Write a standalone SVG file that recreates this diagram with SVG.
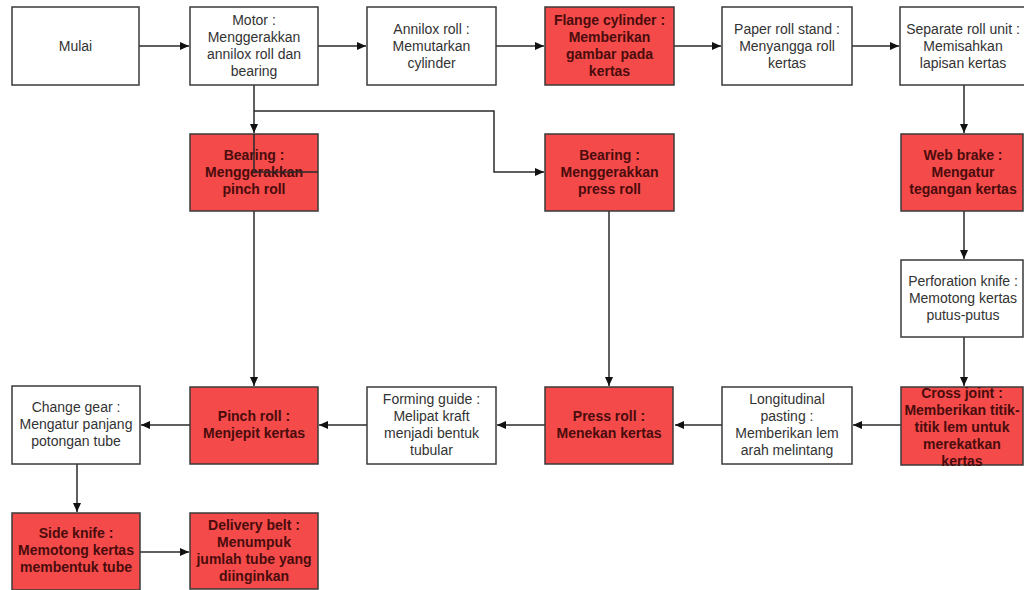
<svg xmlns="http://www.w3.org/2000/svg" width="1024" height="590" viewBox="0 0 1024 590">
<style>
.w{fill:#ffffff;stroke:#3a3a3a;stroke-width:1.5}
.r{fill:#f44a4a;stroke:#3a3a3a;stroke-width:1.5}
.tw{font-family:"Liberation Sans",Arial,sans-serif;font-size:14px;fill:#333333;text-anchor:middle}
.tr{font-family:"Liberation Sans",Arial,sans-serif;font-size:14px;font-weight:bold;fill:#4a0c0c;text-anchor:middle}
.c{fill:none;stroke:#2a2a2a;stroke-width:1.5}
</style>
<defs>
<marker id="a" markerWidth="10" markerHeight="10" refX="9" refY="5" orient="auto" markerUnits="userSpaceOnUse">
<path d="M0,1 L9,5 L0,9 Z" fill="#111"/>
</marker>
</defs>
<rect width="1024" height="590" fill="#ffffff"/>
<g id="connectors">
<line class="c" x1="139" y1="46" x2="189" y2="46" marker-end="url(#a)"/>
<line class="c" x1="318" y1="46" x2="366" y2="46" marker-end="url(#a)"/>
<line class="c" x1="496" y1="46" x2="544" y2="46" marker-end="url(#a)"/>
<line class="c" x1="674" y1="46" x2="721" y2="46" marker-end="url(#a)"/>
<line class="c" x1="852" y1="46" x2="899" y2="46" marker-end="url(#a)"/>
<line class="c" x1="254" y1="85" x2="254" y2="133" marker-end="url(#a)"/>
<polyline class="c" points="254,111 494,111 494,172 544,172" marker-end="url(#a)"/>
<line class="c" x1="964" y1="85" x2="964" y2="133" marker-end="url(#a)"/>
<line class="c" x1="964" y1="211" x2="964" y2="259" marker-end="url(#a)"/>
<line class="c" x1="964" y1="337" x2="964" y2="386" marker-end="url(#a)"/>
<line class="c" x1="254" y1="211" x2="254" y2="386" marker-end="url(#a)"/>
<line class="c" x1="609" y1="211" x2="609" y2="386" marker-end="url(#a)"/>
<line class="c" x1="901" y1="425" x2="853" y2="425" marker-end="url(#a)"/>
<line class="c" x1="722" y1="425" x2="675" y2="425" marker-end="url(#a)"/>
<line class="c" x1="545" y1="425" x2="497" y2="425" marker-end="url(#a)"/>
<line class="c" x1="367" y1="425" x2="319" y2="425" marker-end="url(#a)"/>
<line class="c" x1="190" y1="425" x2="141" y2="425" marker-end="url(#a)"/>
<line class="c" x1="77" y1="464" x2="77" y2="512" marker-end="url(#a)"/>
<line class="c" x1="140" y1="552" x2="189" y2="552" marker-end="url(#a)"/>
</g>
<g id="mulai"><rect class="w" x="12" y="7" width="127" height="78"/><text class="tw" x="75.5" y="51">Mulai</text></g>
<g id="motor"><rect class="w" x="190" y="7" width="128" height="78"/><text class="tw" x="254"><tspan x="254" y="25">Motor :</tspan><tspan x="254" y="42">Menggerakkan</tspan><tspan x="254" y="59">annilox roll dan</tspan><tspan x="254" y="76">bearing</tspan></text></g>
<g id="annilox"><rect class="w" x="367" y="7" width="129" height="78"/><text class="tw"><tspan x="431.5" y="34">Annilox roll :</tspan><tspan x="431.5" y="51">Memutarkan</tspan><tspan x="431.5" y="68">cylinder</tspan></text></g>
<g id="flange"><rect class="r" x="545" y="7" width="129" height="78"/><text class="tr"><tspan x="609.5" y="25">Flange cylinder :</tspan><tspan x="609.5" y="42">Memberikan</tspan><tspan x="609.5" y="59">gambar pada</tspan><tspan x="609.5" y="76">kertas</tspan></text></g>
<g id="paperroll"><rect class="w" x="722" y="7" width="130" height="78"/><text class="tw"><tspan x="787" y="34">Paper roll stand :</tspan><tspan x="787" y="51">Menyangga roll</tspan><tspan x="787" y="68">kertas</tspan></text></g>
<g id="separate"><rect class="w" x="900" y="7" width="128" height="78"/><text class="tw"><tspan x="963" y="34">Separate roll unit :</tspan><tspan x="963" y="51">Memisahkan</tspan><tspan x="963" y="68">lapisan kertas</tspan></text></g>
<g id="bearingpinch"><rect class="r" x="190" y="134" width="128" height="77"/><text class="tr"><tspan x="254" y="160">Bearing :</tspan><tspan x="254" y="177">Menggerakkan</tspan><tspan x="254" y="194">pinch roll</tspan></text><polyline class="c" points="254,134 254,172 318,172"/></g>
<g id="bearingpress"><rect class="r" x="545" y="134" width="129" height="77"/><text class="tr"><tspan x="609.5" y="160">Bearing :</tspan><tspan x="609.5" y="177">Menggerakkan</tspan><tspan x="609.5" y="194">press roll</tspan></text></g>
<g id="webbrake"><rect class="r" x="901" y="134" width="122" height="77"/><text class="tr"><tspan x="963" y="160">Web brake :</tspan><tspan x="963" y="177">Mengatur</tspan><tspan x="963" y="194">tegangan kertas</tspan></text></g>
<g id="perforation"><rect class="w" x="901" y="260" width="122" height="77"/><text class="tw"><tspan x="963" y="286">Perforation knife :</tspan><tspan x="963" y="303">Memotong kertas</tspan><tspan x="963" y="320">putus-putus</tspan></text></g>
<g id="crossjoint"><rect class="r" x="901" y="387" width="122" height="78"/><text class="tr"><tspan x="962" y="398">Cross joint :</tspan><tspan x="962" y="415">Memberikan titik-</tspan><tspan x="962" y="432">titik lem untuk</tspan><tspan x="962" y="449">merekatkan</tspan><tspan x="962" y="466">kertas</tspan></text></g>
<g id="longitudinal"><rect class="w" x="722" y="387" width="130" height="77"/><text class="tw"><tspan x="787" y="404">Longitudinal</tspan><tspan x="787" y="421">pasting :</tspan><tspan x="787" y="438">Memberikan lem</tspan><tspan x="787" y="455">arah melintang</tspan></text></g>
<g id="pressroll"><rect class="r" x="545" y="387" width="128" height="77"/><text class="tr"><tspan x="609" y="421">Press roll :</tspan><tspan x="609" y="438">Menekan kertas</tspan></text></g>
<g id="forming"><rect class="w" x="367" y="387" width="129" height="77"/><text class="tw"><tspan x="431.5" y="404">Forming guide :</tspan><tspan x="431.5" y="421">Melipat kraft</tspan><tspan x="431.5" y="438">menjadi bentuk</tspan><tspan x="431.5" y="455">tubular</tspan></text></g>
<g id="pinchroll"><rect class="r" x="190" y="387" width="128" height="77"/><text class="tr"><tspan x="254" y="421">Pinch roll :</tspan><tspan x="254" y="438">Menjepit kertas</tspan></text></g>
<g id="changegear"><rect class="w" x="12" y="386" width="128" height="78"/><text class="tw"><tspan x="76" y="412">Change gear :</tspan><tspan x="76" y="429">Mengatur panjang</tspan><tspan x="76" y="446">potongan tube</tspan></text></g>
<g id="sideknife"><rect class="r" x="12" y="513" width="128" height="77"/><text class="tr"><tspan x="76" y="538">Side knife :</tspan><tspan x="76" y="555">Memotong kertas</tspan><tspan x="76" y="572">membentuk tube</tspan></text></g>
<g id="delivery"><rect class="r" x="190" y="513" width="128" height="76"/><text class="tr"><tspan x="254" y="530">Delivery belt :</tspan><tspan x="254" y="547">Menumpuk</tspan><tspan x="254" y="564">jumlah tube yang</tspan><tspan x="254" y="581">diinginkan</tspan></text></g>
</svg>
